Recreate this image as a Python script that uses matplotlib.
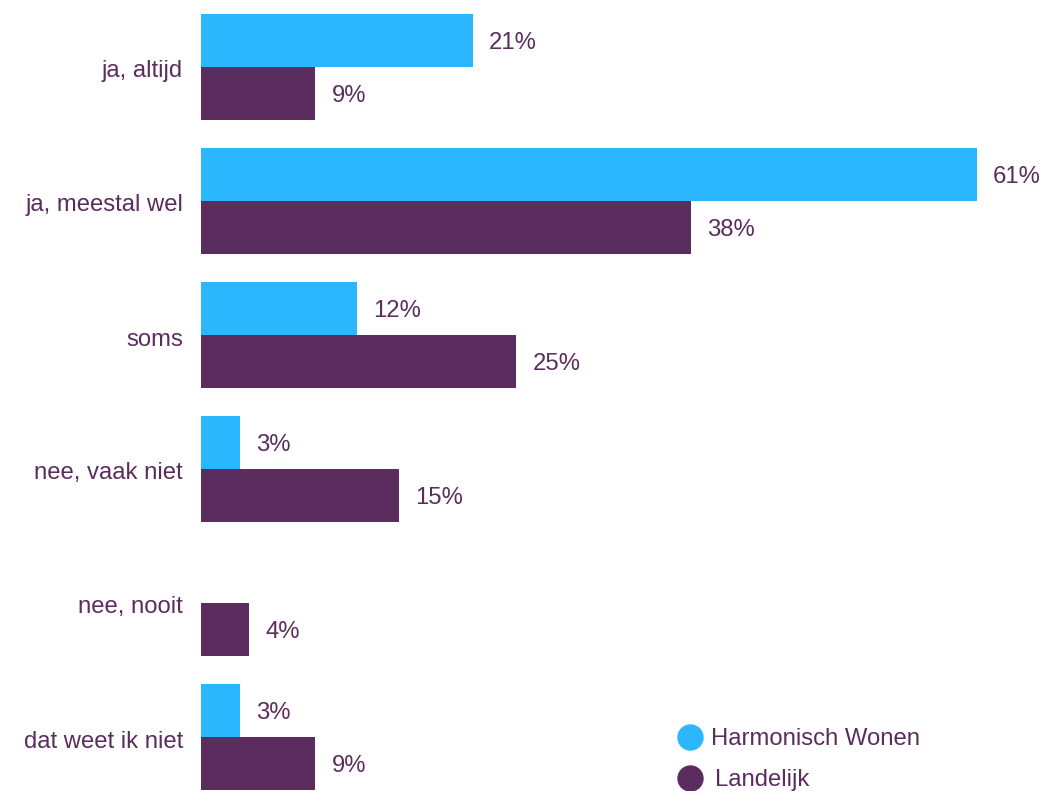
import matplotlib
matplotlib.use("Agg")
import matplotlib.pyplot as plt
from matplotlib.lines import Line2D
from matplotlib.transforms import ScaledTranslation

categories = ["ja, altijd", "ja, meestal wel", "soms", "nee, vaak niet", "nee, nooit", "dat weet ik niet"]
harmonisch = [21.4, 61.0, 12.3, 3.1, 0.0, 3.1]
landelijk = [9.0, 38.5, 24.8, 15.6, 3.8, 9.0]
harmonisch_labels = ["21%", "61%", "12%", "3%", "", "3%"]
landelijk_labels = ["9%", "38%", "25%", "15%", "4%", "9%"]
series_names = ["Harmonisch Wonen", "Landelijk"]

BLUE = "#2bb7fe"
PURPLE = "#5b2c5e"
FONT = "Liberation Sans"
FS = 17.2

W, H = 1045, 791
fig = plt.figure(figsize=(W / 100, H / 100), dpi=100)
ax_left = 201 / W
ax_w = (1045 - 201) / W
ax_h = 804 / H
ax_bottom = 1 - ax_h
ax = fig.add_axes([ax_left, ax_bottom, ax_w, ax_h])

scale_pct_per_px = 61.0 / 776
xmax = (1045 - 201) * scale_pct_per_px
ax.set_xlim(0, xmax)
ax.set_ylim(len(categories) - 0.5, -0.5)

bh = 53 / 134
ys = list(range(len(categories)))
ax.barh([y - bh / 2 for y in ys], harmonisch, height=bh, color=BLUE, align="center")
ax.barh([y + bh / 2 for y in ys], landelijk, height=bh, color=PURPLE, align="center")

down = ScaledTranslation(0, -2.5 / 100, fig.dpi_scale_trans)
off = 16 * scale_pct_per_px
for y, v, lab in zip(ys, harmonisch, harmonisch_labels):
    if lab:
        ax.text(v + off, y - bh / 2, lab, va="center", ha="left", color=PURPLE,
                fontsize=FS, family=FONT, transform=ax.transData + down)
for y, v, lab in zip(ys, landelijk, landelijk_labels):
    if lab:
        ax.text(v + off, y + bh / 2, lab, va="center", ha="left", color=PURPLE,
                fontsize=FS, family=FONT, transform=ax.transData + down)

ax.set_yticks(ys)
ax.set_yticklabels(categories, fontsize=FS, family=FONT, color=PURPLE)
ax.tick_params(axis="y", length=0, pad=13)
for t in ax.get_yticklabels():
    t.set_transform(t.get_transform() + ScaledTranslation(0, -2 / 100, fig.dpi_scale_trans))
ax.set_xticks([])
for s in ax.spines.values():
    s.set_visible(False)

for (cy, name, col, tx) in [(737, series_names[0], BLUE, 711), (778, series_names[1], PURPLE, 715)]:
    fig.add_artist(Line2D([690 / W], [1 - cy / H], marker="o", markersize=18,
                          color=col, linestyle="none", transform=fig.transFigure))
    fig.text(tx / W, 1 - (cy + 2) / H, name, fontsize=FS, family=FONT, color=PURPLE,
             va="center", ha="left")

fig.savefig("out.png", dpi=100)
